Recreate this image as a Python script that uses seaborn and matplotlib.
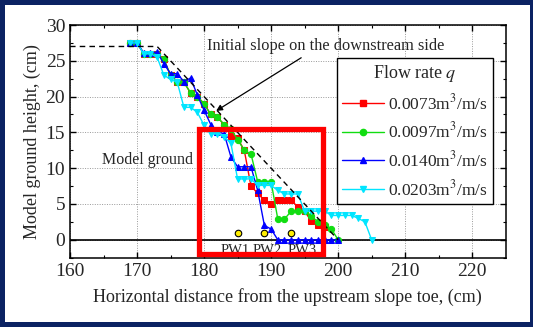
import numpy as np
import pandas as pd
import matplotlib
matplotlib.use("Agg")
import matplotlib.pyplot as plt
import seaborn as sns
from matplotlib.patches import Rectangle
from matplotlib.lines import Line2D

# ---------------- data ----------------
labels = ["0.0073m$^3$/m/s", "0.0097m$^3$/m/s", "0.0140m$^3$/m/s", "0.0203m$^3$/m/s"]

x_red = [169, 170, 171, 172, 173, 174, 175, 176, 177, 178, 179, 180, 181, 182, 183, 184, 185, 186,
         187, 188, 189, 190, 191, 192, 193, 194, 195, 196, 197, 198]
y_red = [27.5, 27.5, 26, 26, 26, 25.2, 23, 22.1, 22, 20.5, 20, 19, 17.5, 17.1, 16.1, 14.5, 14.2, 12.5,
         7.5, 6.5, 5.5, 5.0, 5.5, 5.5, 5.5, 4.6, 4.0, 2.6, 2.0, 1.8]

x_green = [169, 170, 171, 172, 173, 174, 175, 176, 177, 178, 179, 180, 181, 182, 183, 184, 185, 186,
           187, 188, 189, 190, 191, 192, 193, 194, 195, 196, 197, 198, 199, 200]
y_green = [27.5, 27.5, 26, 26, 26, 25.2, 23, 22.1, 22, 20.5, 20, 19, 17.5, 17.1, 16.1, 15.5, 14, 12.5,
           12, 8.1, 8.1, 8.1, 2.9, 2.9, 4.0, 4.0, 4.0, 3.3, 2.5, 2.0, 1.5, 0]

x_blue = [169, 170, 171, 172, 173, 174, 175, 176, 177, 178, 179, 180, 181, 182, 183, 184, 185, 186,
          187, 188, 189, 190, 191, 192, 193, 194, 195, 196, 197, 198, 199, 200]
y_blue = [27.5, 27.5, 26.1, 26.1, 26.2, 24.6, 23.2, 23.2, 22.1, 22.6, 20.2, 18.1, 16.1, 15.1, 14.8,
          11.6, 10.2, 10.2, 10.2, 6.9, 2.0, 1.5, 0, 0, 0, 0, 0, 0, 0, 0, 0, 0]

x_cyan = [169, 170, 171, 172, 173, 174, 175, 176, 177, 178, 179, 180, 181, 182, 183, 184, 185, 186,
          187, 188, 189, 190, 191, 192, 193, 194, 195, 196, 197, 198, 199, 200, 201, 202, 203, 204, 205]
y_cyan = [27.5, 27.5, 26, 26, 25.5, 23, 22.4, 22, 18.5, 18.5, 17.8, 16, 14.8, 14.8, 14.4, 13.5, 8.5,
          8.5, 8.5, 7.6, 7.6, 7.6, 6.9, 6.4, 6.4, 6.4, 4.0, 4.0, 4.0, 4.0, 3.4, 3.4, 3.4, 3.4, 3.0, 2.5, 0]

slope_x = [160, 173, 200]
slope_y = [27, 27, 0]

pw_x = [185, 189, 193]
pw_y = [1, 1, 1]
pw_labels = ["PW1", "PW2", "PW3"]
pw_label_x = [184.7, 189.4, 194.6]

xticks = [160, 170, 180, 190, 200, 210, 220]
yticks = [0, 5, 10, 15, 20, 25, 30]

# ---------------- style ----------------
sns.set_style("ticks")
plt.rcParams['font.family'] = ['Liberation Serif', 'DejaVu Serif']
plt.rcParams['mathtext.fontset'] = 'stix'

W, H = 533, 327
fig = plt.figure(figsize=(W / 100, H / 100), dpi=100)
fig.patch.set_facecolor('white')
navy = '#0b2263'
bw = 5
for (x0, y0, w, h) in [(0, 0, W, bw), (0, H - bw, W, bw), (0, 0, bw, H), (W - 3, 0, 3, H)]:
    fig.patches.append(Rectangle((x0 / W, y0 / H), w / W, h / H, transform=fig.transFigure,
                                 facecolor=navy, edgecolor='none', zorder=-5))

ax = fig.add_axes([70 / W, (H - 257.7) / H, 435.7 / W, 232.7 / H])
ax.set_facecolor('white')

series = [
    (x_red, y_red, '#ff0000', 's', 4.0),
    (x_green, y_green, '#11dd11', 'o', 4.5),
    (x_blue, y_blue, '#0000ff', '^', 4.5),
    (x_cyan, y_cyan, '#00e5ff', 'v', 4.5),
]

# zero line and initial slope
ax.axhline(0, color='black', lw=1.2, zorder=1)
sns.lineplot(x=slope_x, y=slope_y, ax=ax, color='black', lw=1.0, linestyle=(0, (4, 3)),
             sort=False, estimator=None, zorder=5)

for k, (xs, ys, c, m, ms) in enumerate(series):
    sns.lineplot(x=xs, y=ys, ax=ax, color=c, marker=m, markersize=ms, markeredgecolor=c,
                 lw=1.0, sort=False, estimator=None, zorder=2 + k * 0.5)

# PW points
sns.scatterplot(x=pw_x, y=pw_y, ax=ax, color='#ffee00', edgecolor='black', s=22, linewidth=0.8, zorder=6)
for lx, lab in zip(pw_label_x, pw_labels):
    ax.text(lx, -0.55, lab, ha='center', va='top', fontsize=10.5, zorder=6, clip_on=True)

# red box
ax.add_patch(Rectangle((179.2, -1.95), 18.5, 17.45, fill=False, edgecolor='#ff0000', lw=3.8, zorder=7,
                       joinstyle='miter'))

ax.text(164.7, 11.1, "Model ground", fontsize=11.5, va='center', ha='left')
ax.annotate("Initial slope on the downstream side", xy=(181.8, 18.0), xytext=(180.4, 27.0),
            fontsize=11.8, va='center', ha='left',
            arrowprops=dict(arrowstyle='-|>', color='black', lw=0.9, mutation_scale=9,
                            shrinkA=0, shrinkB=0, relpos=(0.42, 0.0)))

ax.set_xlim(160, 225)
ax.set_ylim(-2.5, 30)
ax.set_xticks(xticks)
ax.set_yticks(yticks)
ax.set_xticks(np.arange(165, 225, 10), minor=True)
ax.set_yticks(np.arange(-2.5, 30, 5), minor=True)
ax.tick_params(which='both', direction='in', top=True, right=True, labelsize=14, color='black')
ax.tick_params(which='major', length=4, width=1)
ax.tick_params(which='minor', length=2.5, width=0.8)
ax.grid(True, which='major', color='#999999', linestyle=(0, (1, 1.5)), lw=0.7)
ax.set_axisbelow(True)
for s in ax.spines.values():
    s.set_color('black')
    s.set_linewidth(1.1)

ax.set_xlabel("Horizontal distance from the upstream slope toe, (cm)", fontsize=13, labelpad=6)
ax.set_ylabel("Model ground height, (cm)", fontsize=13, labelpad=3)

handles = [Line2D([], [], color=c, marker=m, markersize=ms, markeredgecolor=c, lw=1.0)
           for (_, _, c, m, ms) in series]
leg = ax.legend(handles, labels, title="Flow rate $q$", loc='upper left',
                bbox_to_anchor=(0.613, 0.858), fontsize=12.5, title_fontsize=13,
                frameon=True, fancybox=False, borderpad=0.3, handlelength=2.4,
                handletextpad=0.25, labelspacing=0.5, borderaxespad=0)
leg.get_frame().set_edgecolor('black')
leg.get_frame().set_linewidth(1.0)
leg.get_frame().set_alpha(1)
leg.set_zorder(10)

fig.savefig("out.png", dpi=100)
